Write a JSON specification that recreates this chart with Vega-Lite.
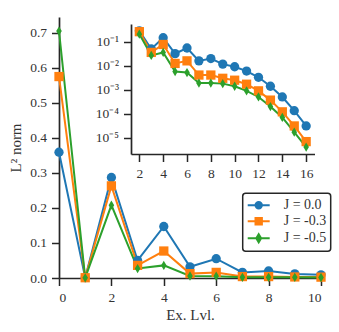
{
  "$schema": "https://vega.github.io/schema/vega-lite/v6.json",
  "width": 262,
  "height": 261,
  "autosize": "none",
  "padding": {"left": 59, "top": 17, "right": 18, "bottom": 54},
  "config": {
    "view": {"stroke": null},
    "font": "Liberation Serif",
    "axis": {"grid": false, "labelOverlap": false, "domainColor": "#262626", "tickColor": "#262626", "domainWidth": 1.7, "tickWidth": 1.5, "tickSize": 7.5, "labelFontSize": 13.5, "titleFontSize": 15, "titleFontWeight": "normal", "labelColor": "#333333", "titleColor": "#333333"},
    "legend": {"strokeWidth": 1.5}
  },
  "data": {"values": [
    {"J": "J = 0.0", "x": 0, "v": 0.359}, {"J": "J = 0.0", "x": 1, "v": 0.001}, {"J": "J = 0.0", "x": 2, "v": 0.287},
    {"J": "J = 0.0", "x": 3, "v": 0.05}, {"J": "J = 0.0", "x": 4, "v": 0.147}, {"J": "J = 0.0", "x": 5, "v": 0.032},
    {"J": "J = 0.0", "x": 6, "v": 0.055}, {"J": "J = 0.0", "x": 7, "v": 0.016}, {"J": "J = 0.0", "x": 8, "v": 0.02},
    {"J": "J = 0.0", "x": 9, "v": 0.0117}, {"J": "J = 0.0", "x": 10, "v": 0.0091}, {"J": "J = 0.0", "x": 11, "v": 0.006},
    {"J": "J = 0.0", "x": 12, "v": 0.0033}, {"J": "J = 0.0", "x": 13, "v": 0.0014}, {"J": "J = 0.0", "x": 14, "v": 0.0005},
    {"J": "J = 0.0", "x": 15, "v": 0.000134}, {"J": "J = 0.0", "x": 16, "v": 0.000031},
    {"J": "J = -0.3", "x": 0, "v": 0.575}, {"J": "J = -0.3", "x": 1, "v": 0.0008}, {"J": "J = -0.3", "x": 2, "v": 0.263},
    {"J": "J = -0.3", "x": 3, "v": 0.036}, {"J": "J = -0.3", "x": 4, "v": 0.077}, {"J": "J = -0.3", "x": 5, "v": 0.0125},
    {"J": "J = -0.3", "x": 6, "v": 0.016}, {"J": "J = -0.3", "x": 7, "v": 0.0041}, {"J": "J = -0.3", "x": 8, "v": 0.0041},
    {"J": "J = -0.3", "x": 9, "v": 0.003}, {"J": "J = -0.3", "x": 10, "v": 0.0025}, {"J": "J = -0.3", "x": 11, "v": 0.0017},
    {"J": "J = -0.3", "x": 12, "v": 0.0009}, {"J": "J = -0.3", "x": 13, "v": 0.00037}, {"J": "J = -0.3", "x": 14, "v": 0.00012},
    {"J": "J = -0.3", "x": 15, "v": 0.000031}, {"J": "J = -0.3", "x": 16, "v": 0.0000069},
    {"J": "J = -0.5", "x": 0, "v": 0.705}, {"J": "J = -0.5", "x": 1, "v": 0.0005}, {"J": "J = -0.5", "x": 2, "v": 0.208},
    {"J": "J = -0.5", "x": 3, "v": 0.027}, {"J": "J = -0.5", "x": 4, "v": 0.036}, {"J": "J = -0.5", "x": 5, "v": 0.0057},
    {"J": "J = -0.5", "x": 6, "v": 0.0052}, {"J": "J = -0.5", "x": 7, "v": 0.0019}, {"J": "J = -0.5", "x": 8, "v": 0.0019},
    {"J": "J = -0.5", "x": 9, "v": 0.0018}, {"J": "J = -0.5", "x": 10, "v": 0.0014}, {"J": "J = -0.5", "x": 11, "v": 0.0009},
    {"J": "J = -0.5", "x": 12, "v": 0.0005}, {"J": "J = -0.5", "x": 13, "v": 0.0002}, {"J": "J = -0.5", "x": 14, "v": 0.00007},
    {"J": "J = -0.5", "x": 15, "v": 0.000017}, {"J": "J = -0.5", "x": 16, "v": 0.0000041}
  ]},
  "layer": [
    {
      "transform": [{"filter": "datum.x <= 10"}],
      "encoding": {
        "x": {"field": "x", "type": "quantitative", "scale": {"domain": [0, 10], "nice": false, "zero": false},
              "axis": {"values": [0, 2, 4, 6, 8, 10], "title": "Ex. Lvl.", "labelPadding": 5, "titlePadding": 3}},
        "y": {"field": "v", "type": "quantitative", "scale": {"domain": [0, 0.745], "nice": false},
              "axis": {"values": [0, 0.1, 0.2, 0.3, 0.4, 0.5, 0.6, 0.7], "format": ".1f", "title": "L² norm", "labelPadding": 5, "titlePadding": 6}},
        "color": {"field": "J", "type": "nominal", "scale": {"domain": ["J = 0.0", "J = -0.3", "J = -0.5"], "range": ["#1f77b4", "#ff7f0e", "#2ca02c"]}, "legend": null}
      },
      "layer": [
        {"mark": {"type": "line", "strokeWidth": 2}},
        {"mark": {"type": "point", "filled": true, "opacity": 1, "size": 86},
         "encoding": {
           "shape": {"field": "J", "type": "nominal", "scale": {"domain": ["J = 0.0", "J = -0.3", "J = -0.5"], "range": ["circle", "square", "M0,-1L0.6,0L0,1L-0.6,0Z"]}, "legend": null}
         }}
      ]
    },
    {
      "encoding": {
        "x": {"field": "x", "type": "quantitative", "scale": {"domain": [1.3, 16.7], "range": [72, 255.5], "nice": false, "zero": false},
              "axis": {"orient": "bottom", "offset": -124, "values": [2, 4, 6, 8, 10, 12, 14, 16], "format": "d", "title": null, "domain": true, "labelPadding": 5, "labelOverlap": false}},
        "y": {"field": "v", "type": "quantitative", "scale": {"type": "log", "domain": [0.0000021, 0.55], "range": [137, 7], "nice": false},
              "axis": {"orient": "left", "offset": -72, "values": [0.1, 0.01, 0.001, 0.0001, 0.00001], "title": null, "domain": true, "labelPadding": 5, "labelOverlap": false,
                       "labelExpr": "'10' + ['⁰','⁻¹','⁻²','⁻³','⁻⁴','⁻⁵'][-round(log(datum.value)/LN10)]"}}
      },
      "layer": [
        {"data": {"values": [{}]},
         "mark": {"type": "rect", "fill": "white", "stroke": "#262626", "strokeWidth": 1.7},
         "encoding": {
           "x": {"datum": 1.3, "type": "quantitative"},
           "x2": {"datum": 16.7},
           "y": {"datum": 0.0000021, "type": "quantitative"},
           "y2": {"datum": 0.55}
         }},
        {"transform": [{"filter": "datum.x >= 2"}],
         "mark": {"type": "line", "strokeWidth": 2},
         "encoding": {
           "color": {"field": "J", "type": "nominal", "scale": {"domain": ["J = 0.0", "J = -0.3", "J = -0.5"], "range": ["#1f77b4", "#ff7f0e", "#2ca02c"]}, "legend": null}
         }},
        {"transform": [{"filter": "datum.x >= 2"}],
         "mark": {"type": "point", "filled": true, "opacity": 1, "size": 86},
         "encoding": {
           "color": {"field": "J", "type": "nominal", "scale": {"domain": ["J = 0.0", "J = -0.3", "J = -0.5"], "range": ["#1f77b4", "#ff7f0e", "#2ca02c"]}, "legend": null},
           "shape": {"field": "J", "type": "nominal", "scale": {"domain": ["J = 0.0", "J = -0.3", "J = -0.5"], "range": ["circle", "square", "M0,-1L0.6,0L0,1L-0.6,0Z"]}, "legend": null}
         }}
      ]
    },
    {
      "transform": [{"filter": "datum.x <= 10"}],
      "mark": {"type": "point", "filled": true, "opacity": 0, "strokeWidth": 2},
      "encoding": {
        "x": {"field": "x", "type": "quantitative", "scale": {"domain": [0, 10], "nice": false, "zero": false}, "axis": null},
        "y": {"field": "v", "type": "quantitative", "scale": {"domain": [0, 0.745], "nice": false}, "axis": null},
        "fill": {"field": "J", "type": "nominal", "scale": {"domain": ["J = 0.0", "J = -0.3", "J = -0.5"], "range": ["#1f77b4", "#ff7f0e", "#2ca02c"]},
          "legend": {"orient": "none", "legendX": 183.7, "legendY": 176.3, "title": null, "symbolSize": 196, "symbolOffset": 4, "symbolOpacity": 1, "symbolStrokeWidth": 2, "labelFontSize": 14, "labelOffset": 17, "padding": 4, "strokeColor": "#262626", "fillColor": "white", "cornerRadius": 3, "rowPadding": 0, "labelColor": "#333333"}},
        "stroke": {"field": "J", "type": "nominal", "scale": {"domain": ["J = 0.0", "J = -0.3", "J = -0.5"], "range": ["#1f77b4", "#ff7f0e", "#2ca02c"]},
          "legend": {"orient": "none", "legendX": 183.7, "legendY": 176.3, "title": null, "symbolSize": 196, "symbolOffset": 4, "symbolOpacity": 1, "symbolStrokeWidth": 2, "labelFontSize": 14, "labelOffset": 17, "padding": 4, "strokeColor": "#262626", "fillColor": "white", "cornerRadius": 3, "rowPadding": 0, "labelColor": "#333333"}},
        "shape": {"field": "J", "type": "nominal", "scale": {"domain": ["J = 0.0", "J = -0.3", "J = -0.5"], "range": ["M-1.57,0H1.57M0.456,0A0.456,0.456,0,1,1,-0.456,0A0.456,0.456,0,1,1,0.456,0Z", "M-1.57,0H1.57M-0.456,-0.456H0.456V0.456H-0.456Z", "M-1.57,0H1.57M0,-0.58L0.346,0L0,0.58L-0.346,0Z"]},
          "legend": {"orient": "none", "legendX": 183.7, "legendY": 176.3, "title": null, "symbolSize": 196, "symbolOffset": 4, "symbolOpacity": 1, "symbolStrokeWidth": 2, "labelFontSize": 14, "labelOffset": 17, "padding": 4, "strokeColor": "#262626", "fillColor": "white", "cornerRadius": 3, "rowPadding": 0, "labelColor": "#333333"}}
      }
    }
  ],
  "resolve": {
    "scale": {"x": "independent", "y": "independent", "color": "independent", "shape": "independent", "fill": "independent", "stroke": "independent"},
    "axis": {"x": "independent", "y": "independent"},
    "legend": {"color": "independent", "shape": "independent", "fill": "independent", "stroke": "independent"}
  }
}
